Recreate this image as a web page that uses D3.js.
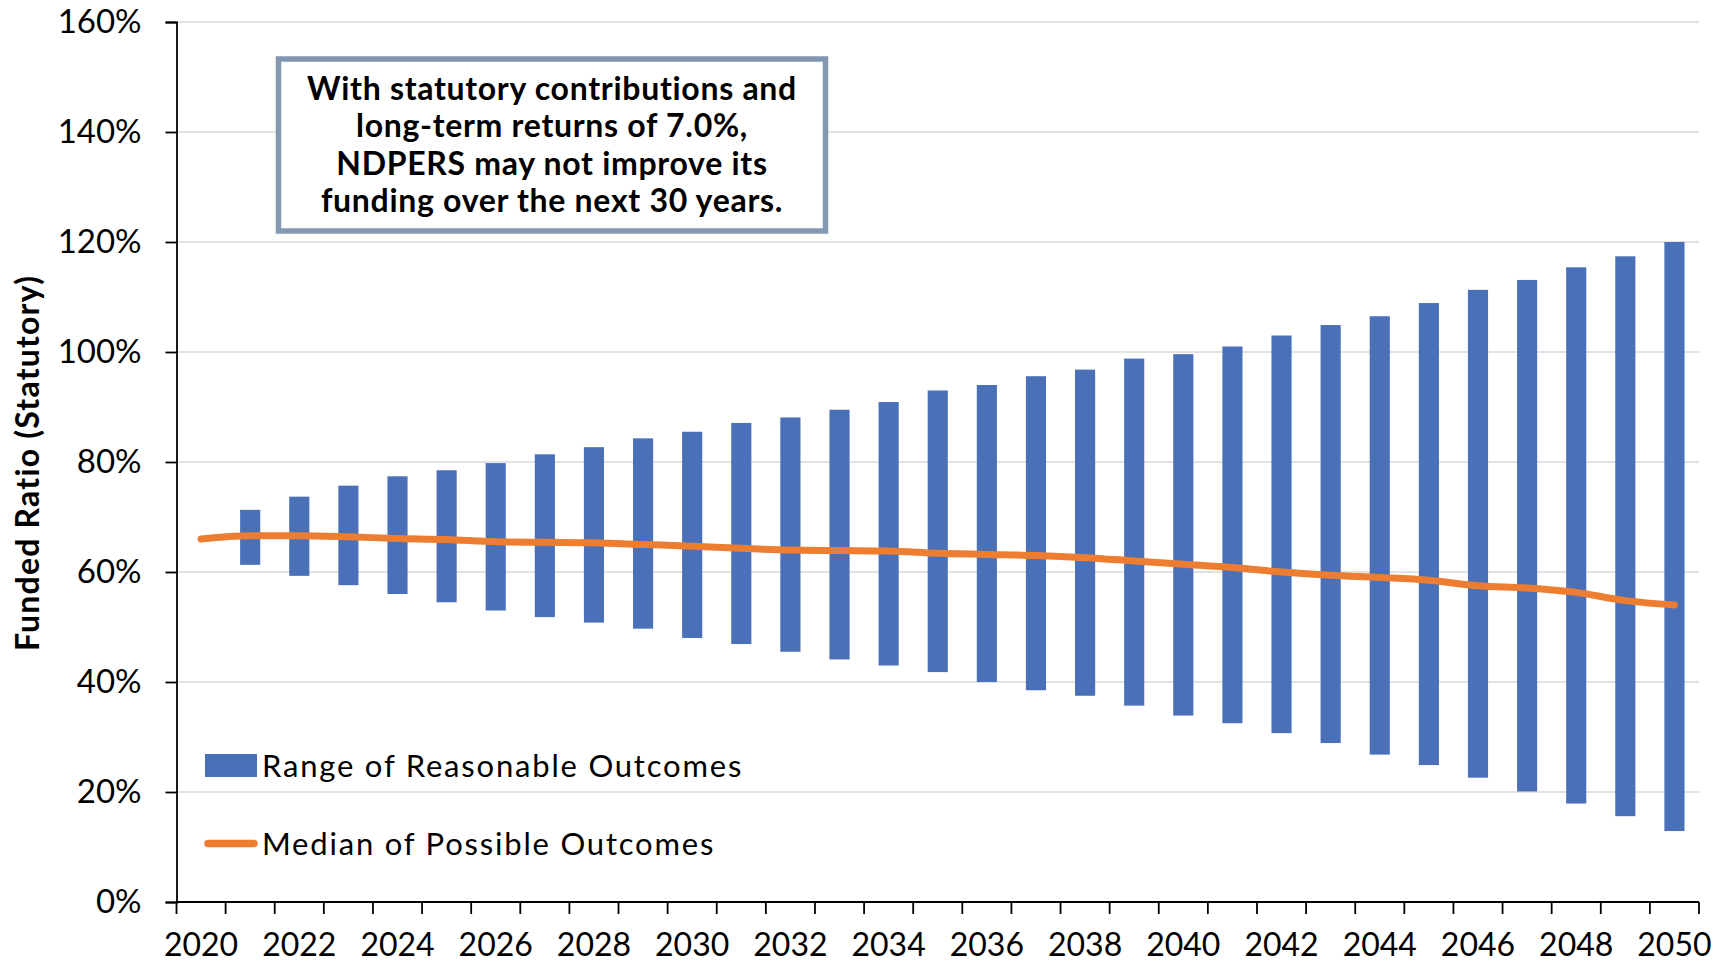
<!DOCTYPE html>
<html>
<head>
<meta charset="utf-8">
<script src="https://cdn.jsdelivr.net/npm/d3@7"></script>
<style>
  body { margin: 0; background: #fff; overflow: hidden; }
  svg { display: block; }
  text { font-family: Lato, "Open Sans", sans-serif; fill: #000; }
</style>
</head>
<body>
<div id="chart"></div>
<script>
// categories
var years = [2020, 2021, 2022, 2023, 2024, 2025, 2026, 2027, 2028, 2029, 2030,
  2031, 2032, 2033, 2034, 2035, 2036, 2037, 2038, 2039, 2040,
  2041, 2042, 2043, 2044, 2045, 2046, 2047, 2048, 2049, 2050];

// range of reasonable outcomes (low / high funded ratio, %)
var rangeLow = [null, 61.3, 59.3, 57.6, 56.0, 54.5, 53.0, 51.8, 50.8, 49.7, 48.0,
  46.9, 45.5, 44.1, 43.0, 41.8, 40.0, 38.5, 37.5, 35.7, 33.9,
  32.5, 30.7, 28.9, 26.8, 24.9, 22.6, 20.1, 17.9, 15.6, 12.9];
var rangeHigh = [null, 71.3, 73.7, 75.7, 77.4, 78.5, 79.8, 81.4, 82.7, 84.3, 85.5,
  87.1, 88.1, 89.5, 90.9, 93.0, 94.0, 95.6, 96.8, 98.8, 99.6,
  101.0, 103.0, 104.9, 106.5, 108.9, 111.3, 113.1, 115.4, 117.4, 120.0];

// median of possible outcomes (%)
var median = [66.0, 66.6, 66.6, 66.4, 66.1, 65.9, 65.5, 65.4, 65.3, 65.0, 64.7,
  64.3, 64.0, 63.9, 63.8, 63.4, 63.2, 63.0, 62.6, 62.0, 61.4,
  60.8, 60.0, 59.4, 59.0, 58.5, 57.5, 57.1, 56.3, 54.8, 54.0];

var yTicks = [0, 20, 40, 60, 80, 100, 120, 140, 160];
var xLabels = [2020, 2022, 2024, 2026, 2028, 2030, 2032, 2034, 2036, 2038, 2040,
  2042, 2044, 2046, 2048, 2050];

var boxLines = ["With statutory contributions and",
  "long-term returns of 7.0%,",
  "NDPERS may not improve its",
  "funding over the next 30 years."];

var svgWidth = 1729;
var svgHeight = 964;
var margin = { top: 22, right: 30, bottom: 62, left: 176.5 };
var width = svgWidth - margin.left - margin.right;
var height = svgHeight - margin.top - margin.bottom;

var svg = d3.select("#chart")
  .append("svg")
  .attr("width", svgWidth)
  .attr("height", svgHeight);

var chartGroup = svg.append("g")
  .attr("transform", `translate(${margin.left}, ${margin.top})`);

var xScale = d3.scaleBand()
  .domain(years)
  .range([0, width])
  .paddingInner(0.59)
  .paddingOuter(0.295);

var yScale = d3.scaleLinear()
  .domain([0, 160])
  .range([height, 0]);

var step = xScale.step();
var cx = d => xScale(d) + xScale.bandwidth() / 2;

// gridlines
chartGroup.append("g")
  .selectAll("line")
  .data(yTicks.filter(d => d > 0))
  .enter().append("line")
  .attr("x1", 0)
  .attr("x2", width)
  .attr("y1", d => yScale(d))
  .attr("y2", d => yScale(d))
  .attr("stroke", "#d9d9d9")
  .attr("stroke-width", 1.5);

// bars
var rows = years.map((y, i) => ({ year: y, low: rangeLow[i], high: rangeHigh[i] }))
  .filter(d => d.low != null);

chartGroup.append("g")
  .selectAll("rect")
  .data(rows)
  .enter().append("rect")
  .attr("x", d => xScale(d.year))
  .attr("width", xScale.bandwidth())
  .attr("y", d => yScale(d.high))
  .attr("height", d => yScale(d.low) - yScale(d.high))
  .attr("fill", "#4a70b8");

// median line
var line = d3.line()
  .x((d, i) => cx(years[i]))
  .y(d => yScale(d))
  .curve(d3.curveMonotoneX);

chartGroup.append("path")
  .datum(median)
  .attr("d", line)
  .attr("fill", "none")
  .attr("stroke", "#ed7d31")
  .attr("stroke-width", 7)
  .attr("stroke-linecap", "round")
  .attr("stroke-linejoin", "round");

// y axis
var leftAxis = d3.axisLeft(yScale)
  .tickValues(yTicks)
  .tickFormat(d => d + "%")
  .tickSize(11)
  .tickPadding(24);

var yAxisG = chartGroup.append("g").call(leftAxis);
yAxisG.select(".domain").attr("stroke", "#000").attr("stroke-width", 1.8);
yAxisG.selectAll(".tick line").attr("stroke", "#000").attr("stroke-width", 1.8);
yAxisG.selectAll(".tick text")
  .style("font-size", "33px")
  .style("font-family", "Lato, sans-serif")
  .attr("fill", "#000");

// x axis: tick marks at category boundaries, labels every other year
var xAxisG = chartGroup.append("g")
  .attr("transform", `translate(0, ${height})`);

xAxisG.append("line")
  .attr("x1", 0).attr("x2", width)
  .attr("stroke", "#000").attr("stroke-width", 1.8);

xAxisG.selectAll(".xtick")
  .data(years.concat([null]))
  .enter().append("line")
  .attr("class", "xtick")
  .attr("x1", (d, i) => i * step)
  .attr("x2", (d, i) => i * step)
  .attr("y1", 0).attr("y2", 12)
  .attr("stroke", "#000").attr("stroke-width", 1.8);

xAxisG.selectAll(".xlabel")
  .data(xLabels)
  .enter().append("text")
  .attr("class", "xlabel")
  .attr("x", d => cx(d))
  .attr("y", 54)
  .attr("text-anchor", "middle")
  .style("font-size", "32px")
  .text(d => d);

// y axis title
svg.append("text")
  .attr("transform", "translate(39, 463) rotate(-90)")
  .attr("text-anchor", "middle")
  .style("font-size", "32px")
  .style("font-weight", "bold")
  .style("letter-spacing", "1.2px")
  .text("Funded Ratio (Statutory)");

// annotation box
svg.append("rect")
  .attr("x", 278.5).attr("y", 59)
  .attr("width", 547).attr("height", 172)
  .attr("fill", "#fff")
  .attr("stroke", "#8497b0")
  .attr("stroke-width", 5.5);

svg.append("g")
  .selectAll("text")
  .data(boxLines)
  .enter().append("text")
  .attr("x", 552)
  .attr("y", (d, i) => 100 + i * 37.3)
  .attr("text-anchor", "middle")
  .style("font-size", "32px")
  .style("font-weight", "bold")
  .style("letter-spacing", "0.7px")
  .text(d => d);

// legend
var legend = svg.append("g");
legend.append("rect")
  .attr("x", 205).attr("y", 754)
  .attr("width", 52).attr("height", 23)
  .attr("fill", "#4a70b8");
legend.append("text")
  .attr("x", 262).attr("y", 777)
  .style("font-size", "31px")
  .style("letter-spacing", "1.8px")
  .text("Range of Reasonable Outcomes");

legend.append("line")
  .attr("x1", 208).attr("x2", 254)
  .attr("y1", 843.5).attr("y2", 843.5)
  .attr("stroke", "#ed7d31")
  .attr("stroke-width", 7.5)
  .attr("stroke-linecap", "round");
legend.append("text")
  .attr("x", 262).attr("y", 855)
  .style("font-size", "31px")
  .style("letter-spacing", "1.8px")
  .text("Median of Possible Outcomes");
</script>
</body>
</html>
